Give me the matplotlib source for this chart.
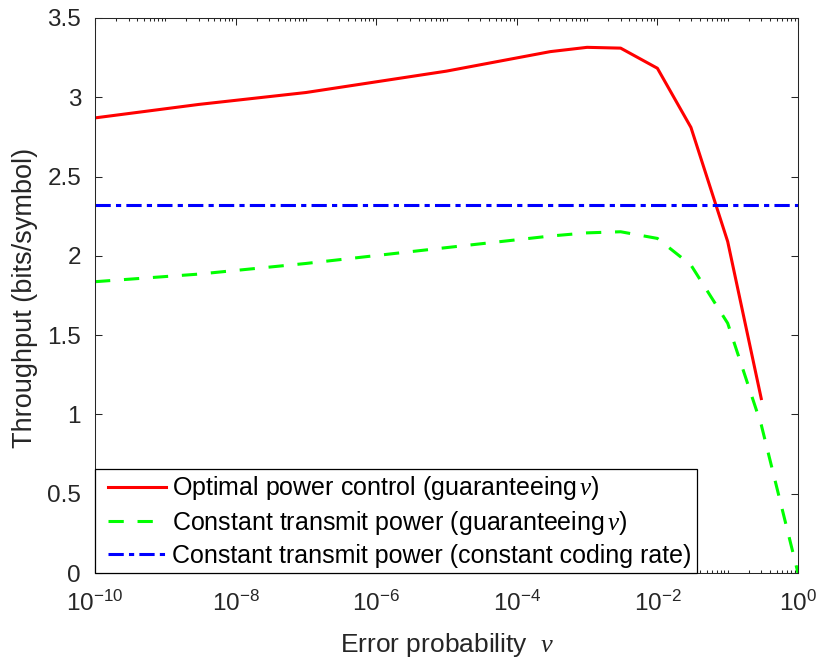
import matplotlib
matplotlib.use("Agg")
import matplotlib.pyplot as plt
from matplotlib.ticker import FixedLocator, FixedFormatter, NullFormatter
from matplotlib.legend_handler import HandlerLine2D
from matplotlib.lines import Line2D
import numpy as np

plt.rcParams['font.family'] = ['Liberation Sans', 'DejaVu Sans']
plt.rcParams['mathtext.fontset'] = 'custom'
plt.rcParams['mathtext.rm'] = 'Liberation Sans'
plt.rcParams['mathtext.it'] = 'Liberation Serif:italic'

# data
nu_red = [1e-10, 3e-9, 1e-7, 1e-5, 3e-4, 1e-3, 3e-3, 1e-2, 3e-2, 1e-1, 3e-1]
thr_opt = [2.87, 2.955, 3.03, 3.165, 3.288, 3.315, 3.31, 3.183, 2.81, 2.09, 1.10]

nu_green = [1e-10, 3e-9, 1e-7, 1e-5, 3e-4, 1e-3, 3e-3, 1e-2, 3e-2, 1e-1, 3e-1, 1.0]
thr_const = [1.837, 1.885, 1.952, 2.052, 2.125, 2.145, 2.152, 2.11, 1.942, 1.575, 0.935, 0.0]

nu_blue = [1e-10, 1.0]
thr_rate = [2.32, 2.32]

xtick_vals = [1e-10, 1e-8, 1e-6, 1e-4, 1e-2, 1e0]
xtick_labels = [r'$\mathdefault{10^{-10}}$', r'$\mathdefault{10^{-8}}$', r'$\mathdefault{10^{-6}}$',
                r'$\mathdefault{10^{-4}}$', r'$\mathdefault{10^{-2}}$', r'$\mathdefault{10^{0}}$']
ytick_vals = [0, 0.5, 1, 1.5, 2, 2.5, 3, 3.5]
ytick_labels = ['0', '0.5', '1', '1.5', '2', '2.5', '3', '3.5']

labels = [r'Optimal power control (guaranteeing$\,\nu$)',
          r'Constant transmit power (guaranteeing$\,\nu$)',
          'Constant transmit power (constant coding rate)']

fig = plt.figure(figsize=(8.19, 6.59), dpi=100)
ax = fig.add_axes([95/819, 1-573/659, (798-95)/819, (573-18)/659])

lw = 2.2
ax.plot(nu_red, thr_opt, color='#ff0000', lw=lw, label=labels[0])
ax.plot(nu_green, thr_const, color='#00ff00', lw=lw, linestyle=(0, (5, 4.5)), label=labels[1])
ax.plot(nu_blue, thr_rate, color='#0000ff', lw=lw, linestyle=(0, (5, 1.7, 1.7, 1.7)), label=labels[2])

ax.set_xscale('log')
ax.set_xlim(1e-10, 1)
ax.set_ylim(0, 3.5)

ax.xaxis.set_major_locator(FixedLocator(xtick_vals))
ax.xaxis.set_major_formatter(FixedFormatter(xtick_labels))
minors = []
for e in range(-10, 0):
    for k in range(1, 10):
        v = k * 10.0**e
        if k == 1 and e % 2 == 0:
            continue
        minors.append(v)
ax.xaxis.set_minor_locator(FixedLocator(minors))
ax.xaxis.set_minor_formatter(NullFormatter())
ax.yaxis.set_major_locator(FixedLocator(ytick_vals))
ax.yaxis.set_major_formatter(FixedFormatter(ytick_labels))

tc = '#262626'
ax.tick_params(which='both', direction='in', top=True, right=True, colors=tc,
               labelsize=17.5, width=0.75)
ax.tick_params(which='major', length=5)
ax.tick_params(which='minor', length=2.5)
ax.tick_params(axis='x', pad=13)
ax.tick_params(axis='y', pad=10)
for s in ax.spines.values():
    s.set_color(tc)
    s.set_linewidth(0.75)

ax.set_xlabel(r'Error probability  $\nu$', fontsize=19, color=tc)
ax.set_ylabel('Throughput (bits/symbol)', fontsize=19.5, color=tc)
ax.xaxis.set_label_coords((447-95)/703, -(645-573)/555, transform=ax.transAxes)
ax.yaxis.set_label_coords(-(95-25)/703, (573-298)/555, transform=ax.transAxes)
ax.xaxis.label.set_va('center')
ax.yaxis.label.set_va('center')

leg = ax.legend(loc='lower left', bbox_to_anchor=(0, 0), borderaxespad=0,
                fontsize=18, frameon=True, fancybox=False, edgecolor='#000000',
                handlelength=2.6, handletextpad=0.27, labelspacing=0.26,
                borderpad=0.22,
                handler_map={Line2D: HandlerLine2D(xpad=0.3)})
leg.get_frame().set_linewidth(0.9)
leg.get_frame().set_alpha(1)

fig.savefig('out.png', dpi=100)
